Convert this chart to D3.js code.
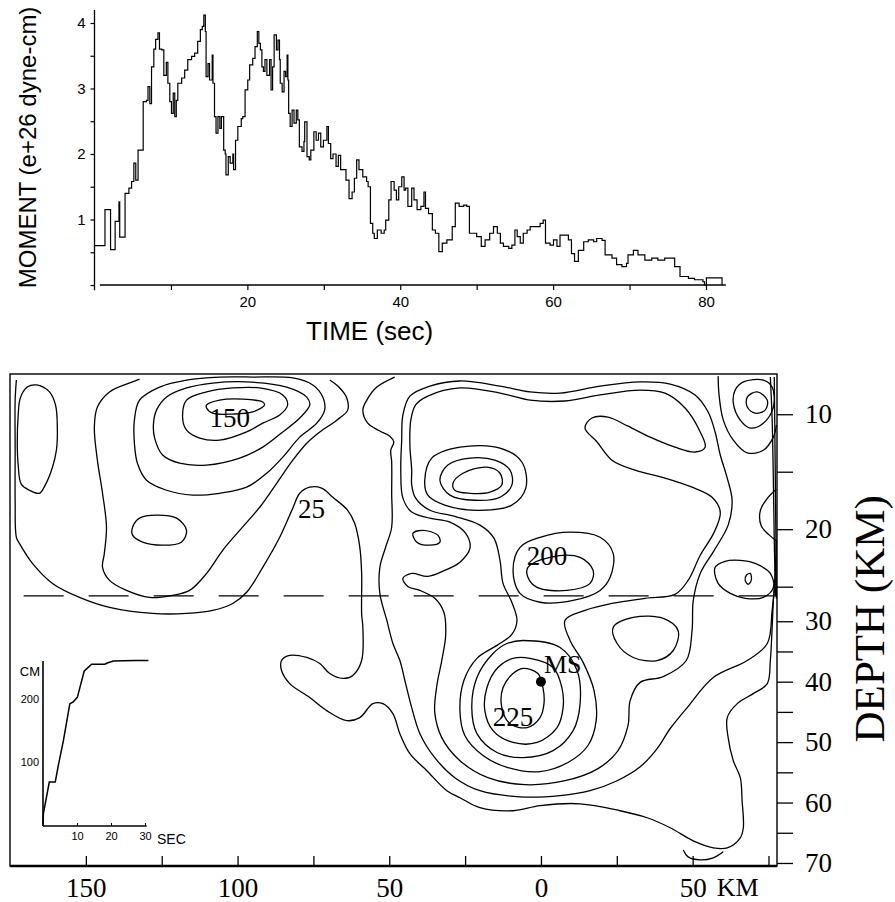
<!DOCTYPE html>
<html>
<head>
<meta charset="utf-8">
<script src="https://cdn.jsdelivr.net/npm/d3@7/dist/d3.min.js"></script>
<style>
body { margin: 0; background: #fff; }
.sans { font-family: "Liberation Sans", Arial, sans-serif; }
.serif { font-family: "Liberation Serif", "Times New Roman", serif; }
text { fill: #000; }
</style>
</head>
<body>
<svg id="chart" width="895" height="902"></svg>
<script>
// ---------- top panel: moment rate (e+26 dyne-cm) vs time (sec) ----------
const momentTime = [0,1.37,2.1,2.7,3.2,3.3,4.0,4.5,4.85,5.15,5.4,5.7,6.37,6.8,7.0,7.24,7.46,7.76,8.0,8.3,8.5,8.8,9.07,9.4,9.6,9.85,10.07,10.3,10.5,10.7,10.9,11.4,11.8,12.2,12.7,13.1,13.5,13.85,14.1,14.3,14.5,14.6,14.85,15.05,15.4,15.5,15.7,15.9,16.15,16.4,16.6,16.9,17.1,17.2,17.5,17.75,18.1,18.2,18.45,18.75,19.2,19.4,19.7,20.05,20.3,20.7,21.0,21.3,21.5,21.7,21.9,22.1,22.3,22.55,22.9,23.1,23.3,23.5,23.8,24.0,24.2,24.3,24.55,24.8,25.0,25.2,25.3,25.4,25.6,25.85,26.1,26.4,26.6,26.8,27.15,27.4,27.5,27.8,28.1,28.3,28.7,29.0,29.3,29.6,29.95,30.4,30.6,30.9,31.2,31.6,31.9,32.2,32.9,33.3,33.7,34.0,34.3,34.6,35.1,35.6,35.8,36.1,36.4,36.6,37.0,37.5,37.9,38.1,38.5,38.8,39.2,39.5,39.8,40.2,40.5,40.7,41.0,41.5,41.8,42.2,42.7,43.1,43.3,43.7,44.2,44.6,45.05,45.5,46.1,46.8,47.2,47.7,48.3,48.7,49.05,49.6,50.0,50.6,51.1,51.7,52.2,52.7,53.1,53.5,54.2,54.6,55.0,55.3,55.7,56.1,56.6,57.0,57.7,58.3,58.7,59.0,59.6,60.05,60.5,60.9,61.6,62.0,62.4,62.8,63.3,64.0,64.6,65.3,65.7,66.4,66.8,67.7,68.3,69.0,69.6,69.8,70.5,71.1,72.0,72.9,73.7,74.6,75.3,75.9,76.6,77.7,78.5,79.6,79.8,80.05,82.1];
const momentValue = [0.6,1.15,0.54,0.97,1.27,0.73,1.4,1.48,1.58,1.86,1.6,2.06,2.8,2.82,3.03,2.77,3.33,3.6,3.75,3.85,3.6,3.59,3.2,3.4,3.08,2.8,2.62,2.93,2.57,2.82,3.08,3.16,3.28,3.44,3.49,3.54,3.72,3.9,3.95,4.12,3.87,3.18,3.38,3.13,3.51,3.08,2.57,2.32,2.57,2.39,2.57,2.06,2.0,1.68,1.96,1.86,2.0,1.76,2.21,2.42,2.54,2.57,2.98,3.13,3.36,3.46,3.64,3.87,3.69,3.59,3.33,3.26,3.44,3.2,3.44,2.98,3.33,3.82,3.59,3.74,3.44,3.08,2.95,3.26,3.18,3.51,3.13,2.62,2.42,2.67,2.47,2.67,2.52,2.11,2.04,2.19,2.49,1.96,1.91,2.06,2.34,2.21,2.32,2.11,2.21,2.42,2.16,1.93,2.0,1.81,1.98,1.76,1.6,1.32,1.42,1.63,1.91,1.76,1.65,1.58,1.5,0.94,0.79,0.71,0.84,0.79,0.84,0.99,1.3,1.58,1.45,1.3,1.5,1.65,1.45,1.48,1.2,1.48,1.3,1.15,1.2,1.42,1.17,1.09,0.84,0.79,0.51,0.64,0.69,0.89,1.25,1.2,1.22,1.2,0.79,0.79,0.74,0.59,0.69,0.79,0.89,0.79,0.64,0.59,0.56,0.61,0.84,0.74,0.64,0.79,0.84,0.89,0.89,0.94,0.99,0.64,0.61,0.69,0.59,0.76,0.76,0.69,0.48,0.36,0.53,0.66,0.69,0.66,0.71,0.68,0.46,0.41,0.31,0.28,0.33,0.46,0.53,0.46,0.38,0.41,0.38,0.41,0.41,0.28,0.13,0.1,0.08,0.05,0,0.11,0];
const timeTicks = [10,20,30,40,50,60,70,80];
const momentTicks = [0,0.5,1,1.5,2,2.5,3,3.5,4];

// ---------- inset: slip (cm) vs time (sec) at hypocentre ----------
const insetTime = [0,0.1,1.85,3.6,4.5,6.0,7.9,8.9,10.1,12.1,14.3,18.2,18.9,20.7,27.1,31];
const insetSlip = [0,19,69,69,95,134,192,195,202,243,254,254,256,259,260,260];

// ---------- bottom panel: slip contours, [km along strike, km down dip] ----------
const strikeTicks = [150,125,100,75,50,25,0,-25,-50,-75];
const strikeLabels = [150,100,50,0,-50];
const depthTicks = [10,15,20,25,30,35,40,45,50,55,60,65,70];
const hingeDepth = 25.8;   // dashed line: change of dip
const hypocentre = {km: 0, depth: 40};

const contour25 = [[172.9,2],[173.3,8.6],[173.3,25.1],[173.3,41.6],[172.9,53.8],[171.9,55.8],[167.6,62.4],[161,69],[152.1,73.6],[142.2,76.9],[128,78.9],[116.8,78.9],[108.2,77.9],[101.6,75.6],[97,71.9],[91.7,63.7],[86.1,53.8],[81.8,44.2],[79.5,39.3],[76.2,37.3],[72.3,37.6],[68.6,40.6],[63.7,44.9],[61.4,49.2],[59.7,57.1],[59.1,65.7],[59.1,78.9],[58.7,83.5],[59.1,94.4],[62,99.3],[65.3,100.3],[69.6,98.7],[72.9,95.4],[77.2,93.4],[82.8,92.7],[85.5,94.4],[85.5,97.7],[82.8,102],[76.2,106.6],[70.6,110.9],[64,114.2],[59.7,113.2],[55.4,108.6],[52.1,108.6],[48.8,111.9],[46.5,118.5],[43.2,125.1],[37.6,130.7],[31,137.3],[26.7,139.6],[20.1,142.9],[9.2,143.9],[0.3,142.2],[-12.9,141.6],[-26.1,143.9],[-35,146.2],[-42.6,149.5],[-50.2,153.8],[-56.8,156.1],[-61.4,156.1],[-65.7,152.8],[-66.7,149.5],[-66.3,140.6],[-65.7,133],[-63.4,127.4],[-61.7,119.8],[-61.4,113.2],[-64.7,108.6],[-70,105.3],[-74.6,102],[-75.6,94.4],[-76.2,83.5],[-76.6,74.6],[-77.2,65.7],[-77.6,54.8]];
const contourLeft50 = [[132.3,1.7],[134.6,2.6],[142.2,5.9],[146.2,10.9],[147.2,17.5],[146.2,28.4],[144.5,39.3],[143.2,50.5],[143.9,59.1],[144.5,63.7],[142.2,68],[136.6,71.3],[129,73.6],[121.4,72.9],[115.8,71.3],[110.2,65.7],[104.9,58.1],[99.3,51.5],[92.7,43.9],[87.1,36],[81.8,28.4],[77.2,22.8],[72.9,19.1],[67.3,15.2],[63.7,11.9],[64,7.9],[66.3,4.6],[69.6,2]];
const contourMid50 = [[48.2,1],[54.1,4.3],[57.4,8.6],[58.7,11.9],[57.1,16.2],[53.1,18.8],[49.8,20.5],[48.5,22.4],[49.5,25.1],[49.2,29],[49.2,39.3],[49.2,50.5],[51.2,57.1],[53.1,63.7],[53.1,72.3],[50.8,81.2],[48.8,88.8],[46.5,94.4],[44.6,102],[42.6,109.9],[39.9,118.5],[35,126.4],[28.4,133],[20.1,137.3],[6.9,139.3],[-6.3,138.9],[-16.2,137.3],[-25.1,134],[-32.7,129.4],[-38.3,123.4],[-42.6,116.8],[-48.2,109.9],[-56.8,100],[-68,94.4],[-74.6,88.8],[-76.2,77.9],[-77.2,68]];
const cornerLine = [[-58.4,0.7],[-58.7,6.9],[-60.1,15.2],[-63.4,21.8],[-68,26],[-73.3,25.1],[-76.6,20.8],[-77.6,16.8]];
const edgeBump = [[-77.6,38],[-74.6,41],[-72.3,45],[-72.6,50],[-75.2,53],[-77.6,55]];
const edgeBandA = [[-75.6,1],[-76.2,15],[-76.6,35],[-76.9,55],[-77.3,73]];
const edgeBandB = [[-76.9,1],[-77.1,20],[-77.3,40],[-77.5,60],[-77.6,74]];
const bottomArc = [[-46.9,156.8],[-48.5,159.1],[-52.5,160.1],[-56.8,159.4],[-60.1,157.4]];

const leftOval = [[166.3,3.6],[162,5.9],[160,10.2],[159.4,17.5],[159.7,25.1],[161,30.7],[163.4,36.6],[165.3,39.3],[168.6,38.3],[171.3,36.3],[172.3,30],[172.6,22.8],[172.3,13.5],[171.6,7.9],[169.3,4.3]];
const left75 = [[132.3,8.6],[125.7,4.3],[116.8,2],[105.9,1],[95,1],[81.8,1.3],[75.2,3.6],[71.9,7.6],[71.3,11.9],[73.9,16.2],[79.5,20.8],[85.1,27.4],[90.4,32.7],[97,37.3],[105.9,39.3],[114.8,39.9],[123.4,38.3],[130,35],[133,29.4],[134,22.8],[134,15.2]];
const left100 = [[126.7,11.9],[123.4,7.6],[116.8,4.6],[108.2,3],[97,2.6],[83.8,4.3],[77.2,7.6],[76.2,10.2],[79.5,14.5],[85.1,19.1],[91.7,24.1],[99.3,27.7],[110.2,30],[119.1,29.4],[124.7,26.7],[127.4,20.8],[127.7,16.2]];
const left125 = [[116.8,8.6],[110.2,5.9],[101.6,4.6],[92.7,4.6],[85.1,6.9],[83.5,10.2],[86.1,13.5],[91.7,16.2],[97,19.1],[105.9,21.8],[112.5,21.1],[116.8,18.5],[118.1,14.5]];
const left150 = [[110.2,10.2],[105.9,8.6],[98.3,8.3],[91.7,9.2],[91.1,10.2],[95,12.5],[101.6,13.2],[108.2,12.9],[110.2,11.2]];
const leftSmall = [[134.6,50.5],[132.3,47.5],[126.7,46.5],[120.1,47.5],[116.8,51.5],[118.5,55.4],[124.7,56.4],[131.3,55.4],[134.6,53.1]];

const tongue75 = [[45.5,67.3],[42.6,65.7],[37.3,66.7],[31.7,64.7],[26.7,62],[23.4,57.4],[24.8,52.5],[30,48.8],[36.6,47.5],[42.6,45.5],[45.5,40.9],[46.2,31.7],[45.9,21.8],[45.5,13.5],[43.2,7.3],[36.6,4],[26.7,2.3],[13.5,4],[3.6,5.9],[-6.3,6.3],[-19.5,4],[-32.7,2.6],[-42.6,3.3],[-50.8,6.9],[-55.1,12.5],[-57.4,19.1],[-59.1,26.7],[-61.4,34.3],[-63,41.6],[-61.7,49.8],[-57.1,58.1],[-52.5,65.7],[-50.2,74.6],[-49.8,84.5],[-47.9,94.4],[-40.3,99.7],[-32.7,101.6],[-29.4,107.6],[-28.7,115.8],[-25.4,124.1],[-18.8,130],[-7.9,134],[5.3,135.3],[17.5,133],[26.7,127.4],[32.7,119.8],[35,111.5],[34.3,102.6],[32.7,94.4],[31.4,86.1],[32,78.5],[35,73.9],[39.9,71.3],[43.9,70]];
const ridge150 = [[42.6,31.7],[43.2,23.4],[42.9,15.2],[41.3,10.2],[37.3,7.3],[26.7,4.6],[13.5,6.3],[3.6,8.6],[-7.9,8.9],[-19.5,6.9],[-32.7,5.3],[-40.9,6.3],[-47.5,11.2],[-52.5,19.1],[-54.1,24.1],[-50.8,25.7],[-44.2,24.1],[-36,20.8],[-28.7,17.2],[-22.1,14.2],[-16.8,14.5],[-14.5,17.8],[-18.5,22.4],[-23.4,28.4],[-31,31.7],[-40.9,34.3],[-49.8,37.3],[-56.4,40.6],[-59.1,45.5],[-57.1,52.1],[-52.5,59.7],[-48.5,68],[-44.2,72.6],[-34.3,73.9],[-23.4,75.6],[-14.5,77.9],[-7.9,81.2],[-9.6,87.8],[-13.9,95],[-17.5,104.3],[-18.2,114.2],[-15.5,122.4],[-8.9,128],[0.3,131],[10.9,129.7],[19.1,125.7],[25.1,119.1],[26.7,110.9],[25.4,101],[21.1,93.7],[14.5,89.4],[9.6,85.8],[7.9,81.2],[9.6,75.2],[12.5,69],[13.5,61.4],[15.5,54.1],[20.1,49.8],[28.4,46.9],[36.6,44.9],[41.3,40.9],[42.6,36.6]];
const hypo225 = [[5.9,97],[1,98.7],[-0.7,103.6],[-1,108.6],[0.3,113.2],[4.6,116.5],[10.2,115.2],[12.9,109.9],[12.5,103.3],[9.2,98.7]];
const hypo200 = [[3.6,93.7],[-4,96.7],[-6.9,103.3],[-7.3,109.9],[-5.3,116.5],[1.3,121.4],[9.2,121.4],[15.8,117.5],[18.5,110.9],[17.8,103.3],[14.2,96.7],[9.2,93.7]];
const hypo175 = [[5.9,87.8],[-6.3,90.1],[-11.9,97.7],[-12.9,108.6],[-10.6,117.5],[-4,124.1],[5.9,126.4],[14.5,124.7],[21.1,118.5],[22.8,109.9],[21.1,100],[15.8,92.1],[11.2,88.8]];
const mid200 = [[4.3,63.7],[-3,60.4],[-12.9,60.4],[-17.2,64.7],[-16.2,69],[-8.6,71.3],[1.3,70.3],[4.3,67]];
const mid175 = [[9.2,64.7],[6.9,57.1],[0.3,53.8],[-9.6,52.1],[-19.5,53.8],[-23.8,59.1],[-22.8,67],[-19.5,71.3],[-10.6,74.6],[0.3,75.2],[6.9,72.3]];
const upperOval = [[29,36],[25.7,32.7],[17.8,30.7],[13.5,32.7],[12.9,36.6],[16.8,38.9],[23.4,39.3],[28.4,38.3]];
const upperRing1 = [[33.3,35],[30.7,30],[23.4,27.7],[15.2,28.4],[10.2,31.7],[9.6,36.6],[13.5,40.6],[21.8,41.6],[30,39.9]];
const upperRing2 = [[38.3,35],[36,27.7],[26.7,24.1],[13.5,24.4],[6.3,29],[5,37.6],[9.6,43.2],[20.8,44.9],[31.7,43.2],[37.3,39.9]];
const midOvalA = [[42.2,52.5],[38.9,51.5],[34,53.1],[33.3,55.4],[36.6,56.4],[40.9,55.4]];
const rightOval = [[-23.8,83.5],[-30.4,80.2],[-40.3,80.5],[-45.2,84.5],[-43.6,91.1],[-38.3,94.4],[-30.4,93.4],[-25.1,88.8]];
const cornerSmall = [[-68,7.6],[-71.3,5.9],[-74.6,8.6],[-73.9,11.9],[-70.6,12.9],[-68,10.9]];
const cornerLoop = [[-64,5.3],[-66.7,2.6],[-73.3,2],[-76.2,4.3],[-76.6,10.9],[-73.3,16.2],[-69,17.8],[-65.7,15.2],[-63.4,9.6]];
const edgeTiny = [[-67.7,66.3],[-69,65.7],[-69.3,68],[-68.3,69.3],[-67.3,68]];
const edgeLoop = [[-57.4,63.7],[-60.7,61.7],[-65.7,61.4],[-70.6,62.4],[-75.6,65.7],[-76.6,70.3],[-73.3,73.6],[-67.3,73.9],[-62.4,72.3],[-58.4,69]];

const openContours = [contour25, contourLeft50, contourMid50, cornerLine, edgeBump,
  edgeBandA, edgeBandB, bottomArc];
const closedContours = [leftOval, left75, left100, left125, left150, leftSmall,
  tongue75, ridge150, hypo225, hypo200, hypo175, mid200, mid175,
  upperOval, upperRing1, upperRing2, midOvalA, rightOval,
  cornerSmall, cornerLoop, edgeTiny, edgeLoop];

const contourLabels = [
  {text: "150", km: 102.6, w: 14.2},
  {text: "25", km: 75.6, w: 44.2},
  {text: "200", km: -2, w: 59.7},
  {text: "225", km: 9.2, w: 112.9}
];

const svg = d3.select("#chart");

// ================= top panel =================
const tScale = d3.scaleLinear().domain([0, 80]).range([94.5, 706]);
const mScale = d3.scaleLinear().domain([0, 4]).range([285, 23]);

const momentPanel = svg.append("g").attr("id", "moment");

momentPanel.append("line")
   .attr("x1", tScale(0)).attr("x2", tScale(0))
   .attr("y1", mScale(4.2)).attr("y2", mScale(-0.08))
   .attr("stroke", "#000").attr("stroke-width", 1.3);
momentPanel.append("line")
   .attr("x1", tScale(0.7)).attr("x2", tScale(82.6))
   .attr("y1", mScale(0)).attr("y2", mScale(0))
   .attr("stroke", "#000").attr("stroke-width", 1.6);

const leftAxis = d3.axisLeft(mScale).tickValues(momentTicks).tickSize(4).tickPadding(5)
    .tickFormat(d => Number.isInteger(d) && d > 0 ? d : "");
momentPanel.append("g").attr("class", "sans")
   .attr("transform", `translate(${tScale(0)},0)`)
   .call(leftAxis)
   .call(g => g.select(".domain").remove())
   .call(g => g.selectAll("text").attr("font-size", 15).attr("fill", "#000"))
   .call(g => g.selectAll("line").attr("stroke-width", 1.2));

const bottomAxis = d3.axisBottom(tScale).tickValues(timeTicks).tickSize(5).tickPadding(6)
    .tickFormat(d => d % 20 === 0 ? d : "");
momentPanel.append("g").attr("class", "sans")
   .attr("transform", `translate(0,${mScale(0)})`)
   .call(bottomAxis)
   .call(g => g.select(".domain").remove())
   .call(g => g.selectAll("text").attr("font-size", 15).attr("fill", "#000"))
   .call(g => g.selectAll("line").attr("stroke-width", 1.2));

const momentPts = momentTime.map((t, i) => [t, momentValue[i]]);
const momentLine = d3.line().x(d => tScale(d[0])).y(d => mScale(d[1])).curve(d3.curveStepAfter);
momentPanel.append("path")
   .attr("d", momentLine(momentPts))
   .attr("fill", "none").attr("stroke", "#000").attr("stroke-width", 1.2);

momentPanel.append("text").attr("class", "sans")
   .attr("transform", `translate(36,${mScale(2.1)}) rotate(-90)`)
   .attr("text-anchor", "middle").attr("font-size", 24)
   .text("MOMENT (e+26 dyne-cm)");
momentPanel.append("text").attr("class", "sans")
   .attr("x", tScale(36)).attr("y", 340)
   .attr("text-anchor", "middle").attr("font-size", 26)
   .text("TIME (sec)");

// ================= bottom panel =================
const xKm = d3.scaleLinear().domain([175, -77.8]).range([10, 777]);
const yW = d3.scaleLinear().domain([0, 162.1]).range([374, 866]);
const depthToW = d3.scaleLinear().domain([6.5, hingeDepth, 70.5]).range([0, 73.1, 162.1]);
const yDepth = d => yW(depthToW(d));
const depthAxisScale = d3.scaleLinear().domain([6.5, hingeDepth, 70.5]).range([374, yW(73.1), 866]);

const slip = svg.append("g").attr("id", "slip");

const openLine = d3.line().x(d => xKm(d[0])).y(d => yW(d[1])).curve(d3.curveCatmullRom.alpha(0.5));
const closedLine = d3.line().x(d => xKm(d[0])).y(d => yW(d[1])).curve(d3.curveCatmullRomClosed.alpha(0.5));

slip.selectAll("path.open").data(openContours).join("path")
    .attr("class", "open").attr("d", openLine)
    .attr("fill", "none").attr("stroke", "#000").attr("stroke-width", 1.3);
slip.selectAll("path.closed").data(closedContours).join("path")
    .attr("class", "closed").attr("d", closedLine)
    .attr("fill", "none").attr("stroke", "#000").attr("stroke-width", 1.3);

// dip change
slip.append("line")
    .attr("x1", xKm(170.5)).attr("x2", xKm(-77.8))
    .attr("y1", yDepth(hingeDepth)).attr("y2", yDepth(hingeDepth))
    .attr("stroke", "#000").attr("stroke-width", 1.3)
    .attr("stroke-dasharray", "40,25");

// frame
slip.append("rect")
    .attr("x", xKm(175)).attr("y", yW(0))
    .attr("width", xKm(-77.8) - xKm(175)).attr("height", yW(162.1) - yW(0))
    .attr("fill", "none").attr("stroke", "#000").attr("stroke-width", 1.4);
slip.append("line")
    .attr("x1", xKm(175)).attr("x2", xKm(-77.8))
    .attr("y1", yW(162.1)).attr("y2", yW(162.1))
    .attr("stroke", "#000").attr("stroke-width", 2.4);

// contour labels
slip.selectAll("text.clab").data(contourLabels).join("text")
    .attr("class", "clab serif")
    .attr("x", d => xKm(d.km)).attr("y", d => yW(d.w))
    .attr("dy", "0.35em").attr("text-anchor", "middle")
    .attr("font-size", 27)
    .text(d => d.text);

// hypocentre
slip.append("circle")
    .attr("cx", xKm(hypocentre.km)).attr("cy", yDepth(hypocentre.depth))
    .attr("r", 5).attr("fill", "#000");
slip.append("text").attr("class", "serif")
    .attr("x", xKm(hypocentre.km) + 3).attr("y", yDepth(hypocentre.depth) - 9)
    .attr("font-size", 26).text("MS");

// strike axis (ticks point up into the frame)
const strikeAxis = d3.axisBottom(xKm).tickValues(strikeTicks).tickSize(-10).tickPadding(12)
    .tickFormat(d => strikeLabels.includes(d) ? Math.abs(d) : "");
slip.append("g").attr("class", "serif")
    .attr("transform", `translate(0,${yW(162.1)})`)
    .call(strikeAxis)
    .call(g => g.select(".domain").remove())
    .call(g => g.selectAll("text").attr("font-size", 27).attr("fill", "#000"))
    .call(g => g.selectAll("line").attr("stroke-width", 1.3));
slip.append("text").attr("class", "serif")
    .attr("x", xKm(-50) + 24).attr("y", yW(162.1) + 30)
    .attr("font-size", 26).text("KM");

// depth axis on the right
const depthAxis = d3.axisRight(depthAxisScale).tickValues(depthTicks).tickSize(16).tickPadding(12)
    .tickFormat(d => d % 10 === 0 ? d : "");
slip.append("g").attr("class", "serif")
    .attr("transform", `translate(${xKm(-77.8)},0)`)
    .call(depthAxis)
    .call(g => g.select(".domain").remove())
    .call(g => g.selectAll("text").attr("font-size", 27).attr("fill", "#000"))
    .call(g => g.selectAll("line").attr("stroke-width", 1.3));
slip.append("text").attr("class", "serif")
    .attr("transform", `translate(884,${depthAxisScale(29.6)}) rotate(-90)`)
    .attr("text-anchor", "middle").attr("font-size", 43)
    .text("DEPTH (KM)");

// ================= inset =================
const tIn = d3.scaleLinear().domain([0, 30]).range([43, 145]);
const sIn = d3.scaleLinear().domain([0, 250]).range([826, 666.8]);
const inset = svg.append("g").attr("id", "inset").attr("class", "sans");

inset.append("line")
    .attr("x1", tIn(0)).attr("x2", tIn(0)).attr("y1", sIn(0)).attr("y2", sIn(259))
    .attr("stroke", "#000").attr("stroke-width", 1.6);
inset.append("line")
    .attr("x1", tIn(0)).attr("x2", tIn(30.5)).attr("y1", sIn(0)).attr("y2", sIn(0))
    .attr("stroke", "#000").attr("stroke-width", 1.6);
inset.append("g")
    .attr("transform", `translate(0,${sIn(0)})`)
    .call(d3.axisBottom(tIn).tickValues([10, 20, 30]).tickSize(-3).tickPadding(6))
    .call(g => g.select(".domain").remove())
    .call(g => g.selectAll("text").attr("font-size", 11).attr("fill", "#000"));
inset.append("g")
    .attr("transform", `translate(${tIn(0)},0)`)
    .call(d3.axisLeft(sIn).tickValues([100, 200]).tickSize(0).tickPadding(4))
    .call(g => g.select(".domain").remove())
    .call(g => g.selectAll("text").attr("font-size", 11).attr("fill", "#000"));
inset.append("text").attr("x", tIn(0) - 3).attr("y", sIn(243)).attr("dy", "0.35em")
    .attr("text-anchor", "end").attr("font-size", 13).text("CM");
inset.append("text").attr("x", tIn(30) + 12).attr("y", sIn(0) + 18)
    .attr("font-size", 14).text("SEC");

const insetPts = insetTime.map((t, i) => [t, insetSlip[i]]);
inset.append("path")
    .attr("d", d3.line().x(d => tIn(d[0])).y(d => sIn(d[1]))(insetPts))
    .attr("fill", "none").attr("stroke", "#000").attr("stroke-width", 1.5);
</script>
</body>
</html>
